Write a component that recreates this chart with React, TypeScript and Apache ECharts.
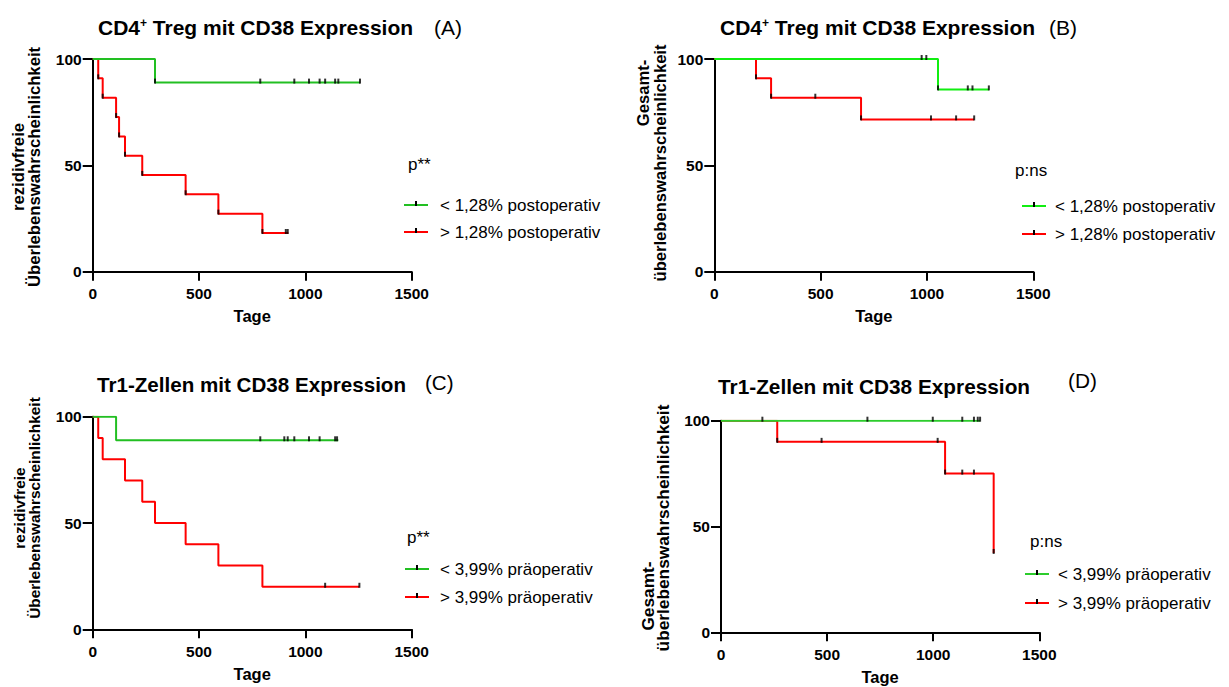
import React, { useEffect, useRef } from "react";
import * as echarts from "echarts";

const FONT = "'Liberation Sans', Arial, sans-serif";

// axis ticks
const xTickMax = 1500;
const xTickStep = 500;
const yTickMax = 100;
const yTickStep = 50;

// Panel A: CD4+ Treg, rezidivfreies Überleben
const aGreenTime = [0, 293, 1257];
const aGreenSurv = [100, 88.9, 88.9];
const aGreenCens = [788, 948, 1017, 1067, 1093, 1140, 1155, 1257];
const aRedTime = [0, 26, 47, 110, 124, 152, 233, 437, 591, 798, 920];
const aRedSurv = [100, 90.9, 81.8, 72.7, 63.6, 54.5, 45.5, 36.4, 27.3, 18.2, 18.2];
const aRedCens = [908, 917];

// Panel B: CD4+ Treg, Gesamtüberleben
const bGreenTime = [0, 1052, 1291];
const bGreenSurv = [100, 85.7, 85.7];
const bGreenCens = [975, 997, 1192, 1214, 1291];
const bRedTime = [0, 196, 267, 690, 1222];
const bRedSurv = [100, 90.9, 81.8, 71.6, 71.6];
const bRedCens = [475, 1019, 1137, 1222];

// Panel C: Tr1-Zellen, rezidivfreies Überleben
const cGreenTime = [0, 110, 1155];
const cGreenSurv = [100, 88.9, 88.9];
const cGreenCens = [788, 901, 917, 948, 1017, 1067, 1140, 1149];
const cRedTime = [0, 26, 47, 152, 233, 293, 437, 591, 798, 1254];
const cRedSurv = [100, 90, 80, 70, 60, 50, 40, 30, 20, 20];
const cRedCens = [1093, 1254];

// Panel D: Tr1-Zellen, Gesamtüberleben
const dGreenTime = [0, 1221];
const dGreenSurv = [100, 100];
const dGreenCens = [195, 690, 998, 1137, 1192, 1210, 1221];
const dRedTime = [0, 265, 1056, 1285];
const dRedSurv = [100, 90, 75, 37.5];
const dRedCens = [474, 1021, 1137, 1192];

const titleTreg = ["CD4", "+", " Treg mit CD38 Expression"];
const titleTr1 = ["Tr1-Zellen mit CD38 Expression", "", ""];
const legendPost = ["< 1,28% postoperativ", "> 1,28% postoperativ"];
const legendPrae = ["< 3,99% präoperativ", "> 3,99% präoperativ"];

type Panel = {
  grid: { left: number; top: number; width: number; height: number };
  title: string[];
  letter: string;
  titleX: number;
  titleY: number;
  letterX: number;
  letterY: number;
  titleSize: number;
  yName: string[];
  yNameX: number[];
  yNameY: number[];
  yNameSize: number;
  pText: string;
  pX: number;
  pY: number;
  legend: string[];
  legX: number;
  legY: number[];
  legTextX: number;
  green: string;
  greenTime: number[];
  greenSurv: number[];
  greenCens: number[];
  redTime: number[];
  redSurv: number[];
  redCens: number[];
  dropMarks: boolean;
};

const panels: Panel[] = [
  {
    grid: { left: 92.7, top: 59, width: 319, height: 212.7 },
    title: titleTreg, letter: "(A)", titleX: 98, titleY: 27, letterX: 434, letterY: 27, titleSize: 21,
    yName: ["rezidivfreie", "Überlebenswahrscheinlichkeit"], yNameX: [18, 34], yNameY: [167, 167], yNameSize: 16.7,
    pText: "p**", pX: 408, pY: 164,
    legend: legendPost, legX: 404, legY: [205, 232], legTextX: 440,
    green: "#22bf22",
    greenTime: aGreenTime, greenSurv: aGreenSurv, greenCens: aGreenCens,
    redTime: aRedTime, redSurv: aRedSurv, redCens: aRedCens, dropMarks: true,
  },
  {
    grid: { left: 714.3, top: 59, width: 319, height: 212.7 },
    title: titleTreg, letter: "(B)", titleX: 720, titleY: 27, letterX: 1049, letterY: 27, titleSize: 21,
    yName: ["Gesamt-", "überlebenswahrscheinlichkeit"], yNameX: [643, 660], yNameY: [93, 163], yNameSize: 16.6,
    pText: "p:ns", pX: 1015, pY: 170,
    legend: legendPost, legX: 1022, legY: [206, 234], legTextX: 1055,
    green: "#11ee11",
    greenTime: bGreenTime, greenSurv: bGreenSurv, greenCens: bGreenCens,
    redTime: bRedTime, redSurv: bRedSurv, redCens: bRedCens, dropMarks: true,
  },
  {
    grid: { left: 92.7, top: 416.7, width: 319, height: 212.6 },
    title: titleTr1, letter: "(C)", titleX: 97, titleY: 384, letterX: 425, letterY: 382, titleSize: 20.6,
    yName: ["rezidivfreie", "Überlebenswahrscheinlichkeit"], yNameX: [19, 34], yNameY: [508, 508], yNameSize: 15.4,
    pText: "p**", pX: 407, pY: 537,
    legend: legendPrae, legX: 405, legY: [569, 597], legTextX: 440,
    green: "#22bf22",
    greenTime: cGreenTime, greenSurv: cGreenSurv, greenCens: cGreenCens,
    redTime: cRedTime, redSurv: cRedSurv, redCens: cRedCens, dropMarks: false,
  },
  {
    grid: { left: 721, top: 420.7, width: 318.3, height: 211.6 },
    title: titleTr1, letter: "(D)", titleX: 718, titleY: 386, letterX: 1068, letterY: 380, titleSize: 20.8,
    yName: ["Gesamt-", "überlebenswahrscheinlichkeit"], yNameX: [648, 663], yNameY: [596, 528], yNameSize: 17.3,
    pText: "p:ns", pX: 1030, pY: 541,
    legend: legendPrae, legX: 1025, legY: [574, 603], legTextX: 1058,
    green: "#2ccc2c",
    greenTime: dGreenTime, greenSurv: dGreenSurv, greenCens: dGreenCens,
    redTime: dRedTime, redSurv: dRedSurv, redCens: dRedCens, dropMarks: true,
  },
];

const RED = "#ff0000";

function survAt(times: number[], surv: number[], t: number) {
  let v = surv[0];
  for (let i = 0; i < times.length; i++) if (times[i] <= t) v = surv[i];
  return v;
}

function marks(times: number[], surv: number[], cens: number[], drops: boolean) {
  const pts: number[][] = cens.map((t) => [t, survAt(times, surv, t)]);
  if (drops) {
    for (let i = 1; i < times.length; i++) {
      if (surv[i] < surv[i - 1]) pts.push([times[i], surv[i]]);
    }
  }
  return pts;
}

function buildOption() {
  const grid: any[] = [];
  const xAxis: any[] = [];
  const yAxis: any[] = [];
  const series: any[] = [];
  const graphic: any[] = [];

  panels.forEach((p, i) => {
    grid.push({ ...p.grid, containLabel: false });
    xAxis.push({
      type: "value", gridIndex: i, min: 0, max: xTickMax, interval: xTickStep,
      name: "Tage", nameLocation: "middle", nameGap: 36,
      nameTextStyle: { color: "#000", fontWeight: "bold", fontSize: 16.5, fontFamily: FONT },
      axisLine: { show: true, onZero: false, lineStyle: { color: "#000", width: 2 } },
      axisTick: { show: true, length: 9, lineStyle: { color: "#000", width: 2 } },
      axisLabel: {
        color: "#000", fontWeight: "bold", fontSize: 15.5, fontFamily: FONT, margin: 14,
        showMinLabel: true, showMaxLabel: true, formatter: (v: number) => String(v),
      },
      splitLine: { show: false },
    });
    yAxis.push({
      type: "value", gridIndex: i, min: 0, max: yTickMax, interval: yTickStep,
      axisLine: { show: true, onZero: false, lineStyle: { color: "#000", width: 2 } },
      axisTick: { show: true, length: 10, lineStyle: { color: "#000", width: 2 } },
      axisLabel: {
        color: "#000", fontWeight: "bold", fontSize: 15.5, fontFamily: FONT, margin: 11,
        showMinLabel: true, showMaxLabel: true, formatter: (v: number) => String(v),
      },
      splitLine: { show: false },
    });

    const redData = p.redTime.map((t, k) => [t, p.redSurv[k]]);
    const greenData = p.greenTime.map((t, k) => [t, p.greenSurv[k]]);
    series.push({
      type: "line", xAxisIndex: i, yAxisIndex: i, step: "end", data: redData,
      symbol: "none", lineStyle: { color: RED, width: 2 }, z: 2,
    });
    series.push({
      type: "line", xAxisIndex: i, yAxisIndex: i, step: "end", data: greenData,
      symbol: "none", lineStyle: { color: p.green, width: 2 }, z: 3,
    });
    series.push({
      type: "scatter", xAxisIndex: i, yAxisIndex: i,
      data: marks(p.redTime, p.redSurv, p.redCens, p.dropMarks),
      symbol: "rect", symbolSize: [2, 5], symbolOffset: [0, -1.5],
      itemStyle: { color: "#000" }, z: 4,
    });
    series.push({
      type: "scatter", xAxisIndex: i, yAxisIndex: i,
      data: marks(p.greenTime, p.greenSurv, p.greenCens, p.dropMarks),
      symbol: "rect", symbolSize: [2, 5], symbolOffset: [0, -1.5],
      itemStyle: { color: "#000" }, z: 4,
    });

    // title
    const rich = {
      b: { fontSize: p.titleSize, fontWeight: "bold", fontFamily: FONT, fill: "#000", lineHeight: p.titleSize },
      s: { fontSize: 12, fontWeight: "bold", fontFamily: FONT, fill: "#000", verticalAlign: "top", lineHeight: p.titleSize },
    };
    const titleText = p.title[1]
      ? `{b|${p.title[0]}}{s|${p.title[1]}}{b|${p.title[2]}}`
      : `{b|${p.title[0]}}`;
    graphic.push({
      type: "text", x: p.titleX, y: p.titleY,
      style: { text: titleText, rich, align: "left", verticalAlign: "middle" },
    });
    graphic.push({
      type: "text", x: p.letterX, y: p.letterY,
      style: { text: p.letter, fontSize: p.titleSize, fontFamily: FONT, fill: "#000", align: "left", verticalAlign: "middle" },
    });
    // y axis name (two lines, rotated)
    p.yName.forEach((line, k) => {
      graphic.push({
        type: "text", x: p.yNameX[k], y: p.yNameY[k], rotation: Math.PI / 2,
        style: {
          text: line, fontSize: p.yNameSize, fontWeight: "bold", fontFamily: FONT, fill: "#000",
          align: "center", verticalAlign: "middle",
        },
      });
    });
    // p value
    graphic.push({
      type: "text", x: p.pX, y: p.pY,
      style: { text: p.pText, fontSize: 17, fontFamily: FONT, fill: "#000", align: "left", verticalAlign: "middle" },
    });
    // legend
    const cols = [p.green, RED];
    p.legend.forEach((lbl, k) => {
      const y = p.legY[k];
      graphic.push({
        type: "line", shape: { x1: p.legX, y1: y, x2: p.legX + 24, y2: y },
        style: { stroke: cols[k], lineWidth: 2 },
      });
      graphic.push({
        type: "rect", shape: { x: p.legX + 11, y: y - 4, width: 2, height: 5 },
        style: { fill: "#000" },
      });
      graphic.push({
        type: "text", x: p.legTextX, y,
        style: { text: lbl, fontSize: 17, fontFamily: FONT, fill: "#000", align: "left", verticalAlign: "middle" },
      });
    });
  });

  return { animation: false, backgroundColor: "#fff", grid, xAxis, yAxis, series, graphic };
}

export default function App() {
  const ref = useRef<HTMLDivElement>(null);
  useEffect(() => {
    if (!ref.current) return;
    const chart = echarts.init(ref.current, undefined, { renderer: "svg" });
    chart.setOption(buildOption() as any);
    return () => chart.dispose();
  }, []);
  return (
    <div
      ref={ref}
      style={{ position: "fixed", left: 0, top: 0, width: 1229, height: 687, background: "#fff" }}
    />
  );
}
